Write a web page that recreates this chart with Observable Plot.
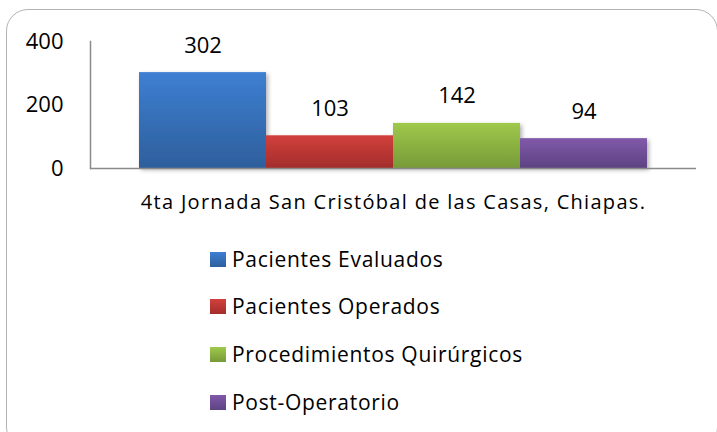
<!DOCTYPE html>
<html>
<head>
<meta charset="utf-8">
<script src="https://cdn.jsdelivr.net/npm/d3@7"></script>
<script src="https://cdn.jsdelivr.net/npm/@observablehq/plot@0.6"></script>
<style>
  html, body { margin: 0; padding: 0; background: #fff; }
  #wrap { position: relative; width: 717px; height: 432px; overflow: hidden; font-family: "Open Sans", sans-serif; color: #000; }
  #frame { position: absolute; left: 6px; top: 9px; width: 712px; height: 440px; border: 1.5px solid #b3b3b3; border-radius: 22px; box-sizing: border-box; }
  #chart { position: absolute; left: 0; top: 0; }
  #legend { position: absolute; left: 210px; top: 0; }
  .item { position: absolute; left: 0; white-space: nowrap; font-size: 21px; line-height: 22px; letter-spacing: 0.7px; }
  .sw { position: absolute; left: 0; width: 16px; height: 15px; }
  .lbl { position: absolute; left: 22px; top: -12px; }
</style>
</head>
<body>
<div id="wrap">
  <div id="frame"></div>
  <div id="chart"></div>
  <div id="legend"></div>
</div>
<script>
const category = "4ta Jornada San Cristóbal de las Casas, Chiapas.";
const series = ["Pacientes Evaluados", "Pacientes Operados", "Procedimientos Quirúrgicos", "Post-Operatorio"];
const values = [302, 103, 142, 94];
const yTicks = [0, 200, 400];
const colorsTop = ["#3d7fd2", "#d2403c", "#9fc94b", "#8059a9"];
const colorsBottom = ["#2e5f9c", "#a32d2b", "#779a38", "#5e4383"];

const data = series.map((s, i) => ({series: s, value: values[i], idx: i}));

const chart = Plot.plot({
  width: 717,
  height: 230,
  marginLeft: 90,
  marginRight: 21,
  marginTop: 41,
  marginBottom: 62,
  style: {fontFamily: "'Open Sans', sans-serif", fontSize: "22px", background: "transparent", overflow: "visible"},
  x: {domain: series, paddingInner: 0, paddingOuter: 0.372, axis: null},
  y: {domain: [0, 400], axis: null},
  color: {type: "identity"},
  marks: [
    Plot.barY(data, {x: "series", y: "value", fill: d => `url(#grad${d.idx})`}),
    Plot.frame({anchor: "left", stroke: "#8a8a8a", strokeWidth: 1.5}),
    Plot.ruleY([0], {stroke: "#8a8a8a", strokeWidth: 1.5}),
    Plot.text(yTicks, {y: d => d, frameAnchor: "left", dx: -27, textAnchor: "end", text: d => String(d), fontSize: 22, fill: "#000"}),
    Plot.text(data, {x: "series", y: "value", text: d => String(d.value), dy: -27, fontSize: 22, fill: "#000"}),
    Plot.text([category], {frameAnchor: "bottom", dy: 40, text: d => d, fontSize: 20, fill: "#000"})
  ]
});

// gradient defs and shadow
const ns = "http://www.w3.org/2000/svg";
const defs = document.createElementNS(ns, "defs");
let html = "";
colorsTop.forEach((c, i) => {
  html += `<linearGradient id="grad${i}" x1="0" y1="0" x2="0" y2="1"><stop offset="0" stop-color="${c}"/><stop offset="1" stop-color="${colorsBottom[i]}"/></linearGradient>`;
});
html += `<filter id="shadow" x="-10%" y="-10%" width="130%" height="130%"><feDropShadow dx="2" dy="2" stdDeviation="2" flood-color="#000" flood-opacity="0.3"/></filter>`;
defs.innerHTML = html;
chart.insertBefore(defs, chart.firstChild);
const barGroup = chart.querySelector("g[aria-label='bar']");
if (barGroup) barGroup.setAttribute("filter", "url(#shadow)");
const textGroups = chart.querySelectorAll("g[aria-label='text']");
if (textGroups.length) textGroups[textGroups.length - 1].setAttribute("letter-spacing", "1.3");
document.getElementById("chart").appendChild(chart);

// legend
const legendTops = [260, 307, 355, 403];
const legend = document.getElementById("legend");
series.forEach((s, i) => {
  const item = document.createElement("div");
  item.className = "item";
  item.style.top = legendTops[i] + "px";
  const sw = document.createElement("div");
  sw.className = "sw";
  sw.style.top = "-8px";
  sw.style.background = `linear-gradient(${colorsTop[i]}, ${colorsBottom[i]})`;
  const lb = document.createElement("div");
  lb.className = "lbl";
  lb.textContent = s;
  item.appendChild(sw);
  item.appendChild(lb);
  legend.appendChild(item);
});
</script>
</body>
</html>
